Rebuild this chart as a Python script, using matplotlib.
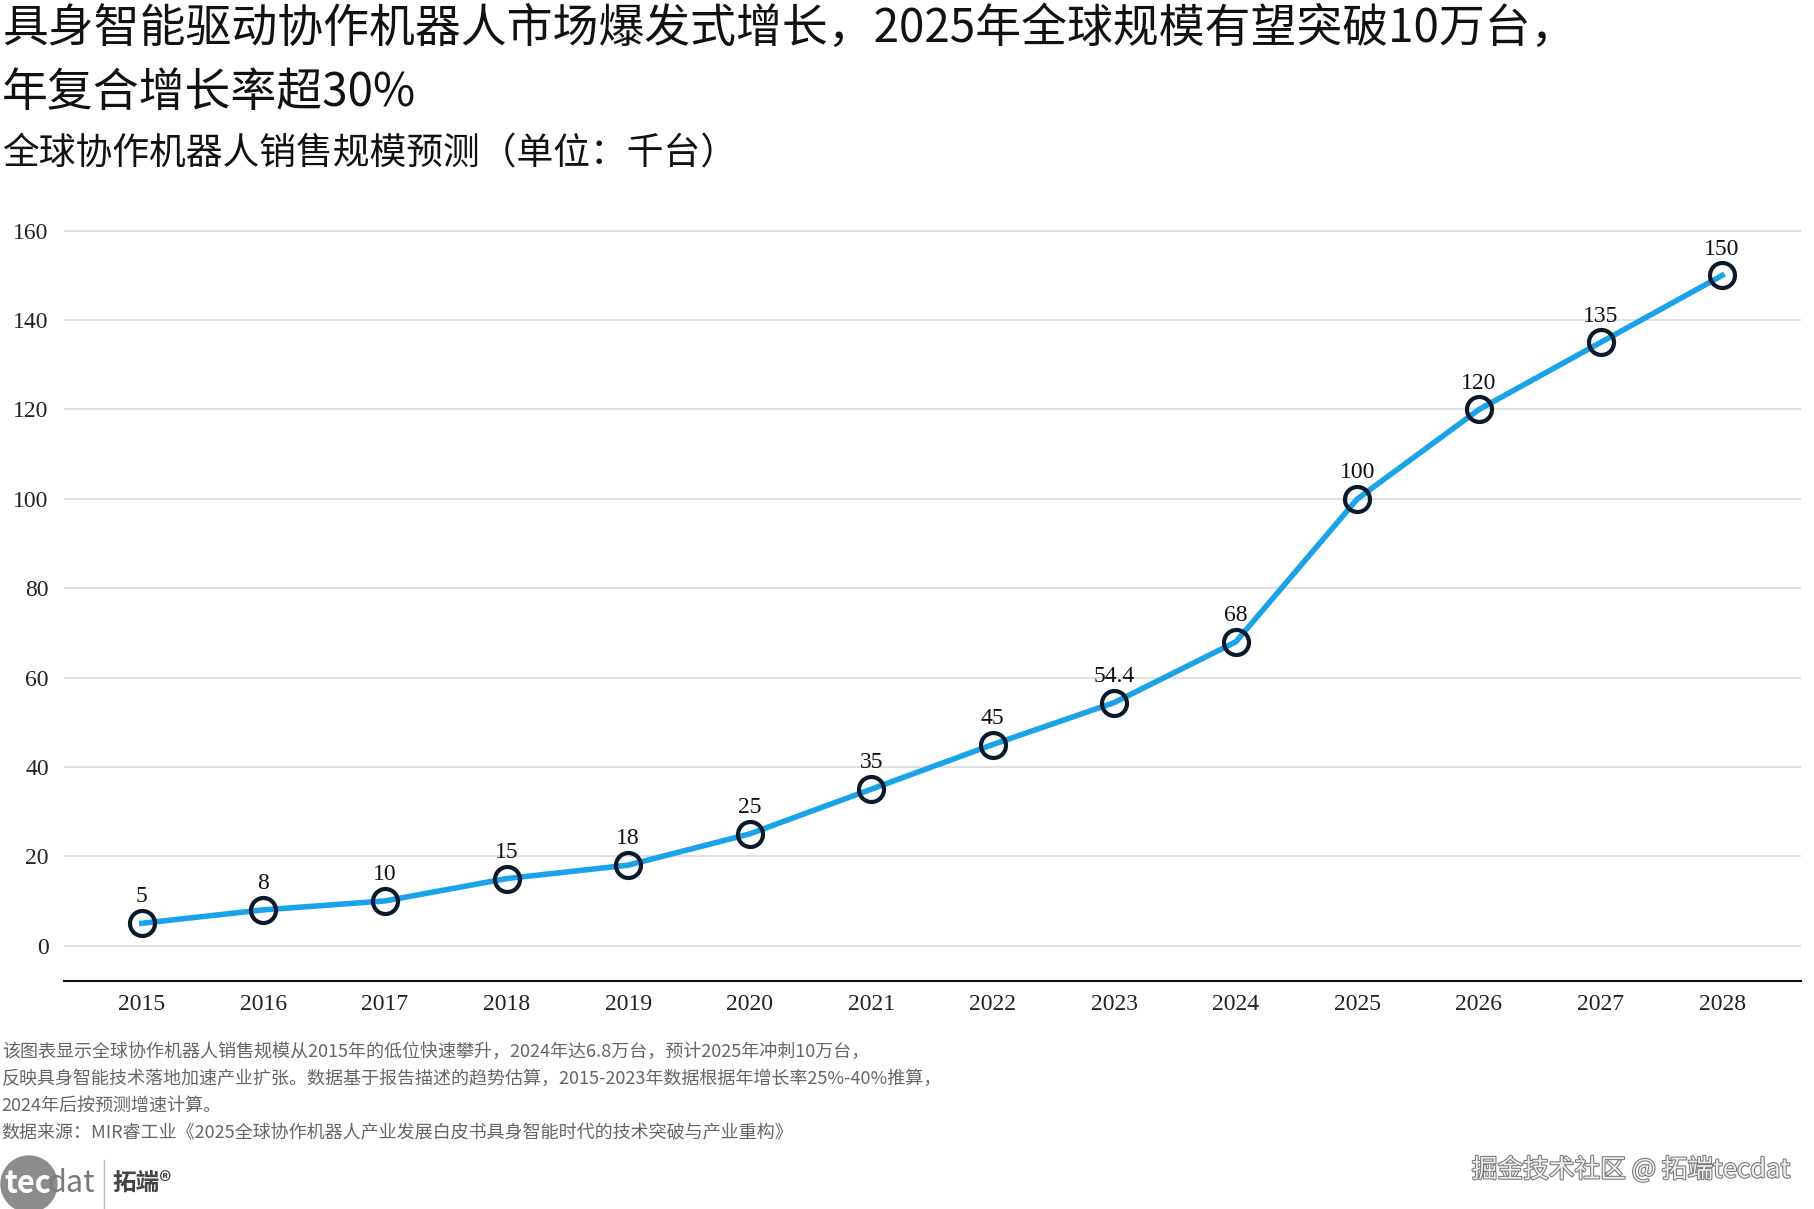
import numpy as np
import matplotlib.pyplot as plt
from matplotlib.patches import Circle
import matplotlib.patheffects as pe

# 数据（单位：千台）
anos = [2015, 2016, 2017, 2018, 2019, 2020, 2021, 2022, 2023, 2024, 2025, 2026, 2027, 2028]
vendas = [5, 8, 10, 15, 18, 25, 35, 45, 54.4, 68, 100, 120, 135, 150]
rotulos = ['5', '8', '10', '15', '18', '25', '35', '45', '54.4', '68', '100', '120', '135', '150']
yticks = [0, 20, 40, 60, 80, 100, 120, 140, 160]

titulo1 = '具身智能驱动协作机器人市场爆发式增长，2025年全球规模有望突破10万台，'
titulo2 = '年复合增长率超30%'
subtitulo = '全球协作机器人销售规模预测（单位：千台）'
notas = [
    '该图表显示全球协作机器人销售规模从2015年的低位快速攀升，2024年达6.8万台，预计2025年冲刺10万台，',
    '反映具身智能技术落地加速产业扩张。数据基于报告描述的趋势估算，2015-2023年数据根据年增长率25%-40%推算，',
    '2024年后按预测增速计算。',
    '数据来源：MIR睿工业《2025全球协作机器人产业发展白皮书具身智能时代的技术突破与产业重构》',
]

plt.rcParams['font.family'] = ['Noto Sans CJK SC', 'DejaVu Sans']
serif = ['Liberation Serif', 'Noto Sans CJK SC']

fig = plt.figure(figsize=(18.14, 12.09), dpi=100)
ax = fig.add_axes([0.0353, 0.1883, 0.9576, 0.6282])

ax.plot(anos, vendas, color='#1aa3e8', linewidth=4, zorder=3)
ax.plot(anos, vendas, linestyle='none', marker='o', markersize=18,
        markerfacecolor='none', markeredgecolor='#0b1a2a', markeredgewidth=3, zorder=4)

for x, y, r in zip(anos, vendas, rotulos):
    ax.annotate(r, (x, y), xytext=(0, 19), textcoords='offset points',
                ha='center', va='center', fontsize=17, family=serif, color='#111111')

ax.set_xlim(2014.36, 2028.65)
ax.set_ylim(-8, 162)
ax.set_xticks(anos)
ax.set_xticklabels([str(a) for a in anos], family=serif, fontsize=17)
ax.set_yticks(yticks)
ax.set_yticklabels([str(v) for v in yticks], family=serif, fontsize=17)
ax.tick_params(axis='both', length=0, colors='#222222')
ax.tick_params(axis='x', pad=9)
ax.tick_params(axis='y', pad=11)

ax.grid(axis='y', color='#dcdcdc', linewidth=1.3)
ax.set_axisbelow(True)
for s in ['top', 'right', 'left']:
    ax.spines[s].set_visible(False)
ax.spines['bottom'].set_color('#111111')
ax.spines['bottom'].set_linewidth(1.5)

# 标题
fig.text(0.001, 0.976, titulo1, fontsize=33, va='center', ha='left', color='#111111', fontweight='light')
fig.text(0.001, 0.923, titulo2, fontsize=33, va='center', ha='left', color='#111111', fontweight='light')
fig.text(0.001, 0.873, subtitulo, fontsize=26.5, va='center', ha='left', color='#111111', fontweight='light')

# 脚注
ys = [1052, 1079, 1106, 1133]
for t, yp in zip(notas, ys):
    fig.text(0.001, 1 - yp / 1209, t, fontsize=13, va='center', ha='left', color='#666666')

# 标志
cy = 1 - 1184 / 1209
fig.patches.append(Circle((29, 1209 - 1184), 28, transform=None, color='#8c8c8c', zorder=1))
fig.text(4 / 1814, cy, 'tec', fontsize=22, color='white', va='center', ha='left', fontweight='bold')
fig.text(47 / 1814, cy, 'dat', fontsize=22, color='#7a7a7a', va='center', ha='left')
fig.add_artist(plt.Line2D([104 / 1814, 104 / 1814], [cy - 0.02, cy + 0.02], color='#bbbbbb', linewidth=1))
fig.text(112 / 1814, cy, '拓端®', fontsize=17, color='#444444', va='center', ha='left', fontweight='bold')

# 水印
fig.text(1791 / 1814, 1 - 1170 / 1209, '掘金技术社区 @ 拓端tecdat', fontsize=18.5,
         color='#eeeeee', va='center', ha='right',
         path_effects=[pe.withStroke(linewidth=1.5, foreground='#777777')])

fig.savefig('out.png', dpi=100)
